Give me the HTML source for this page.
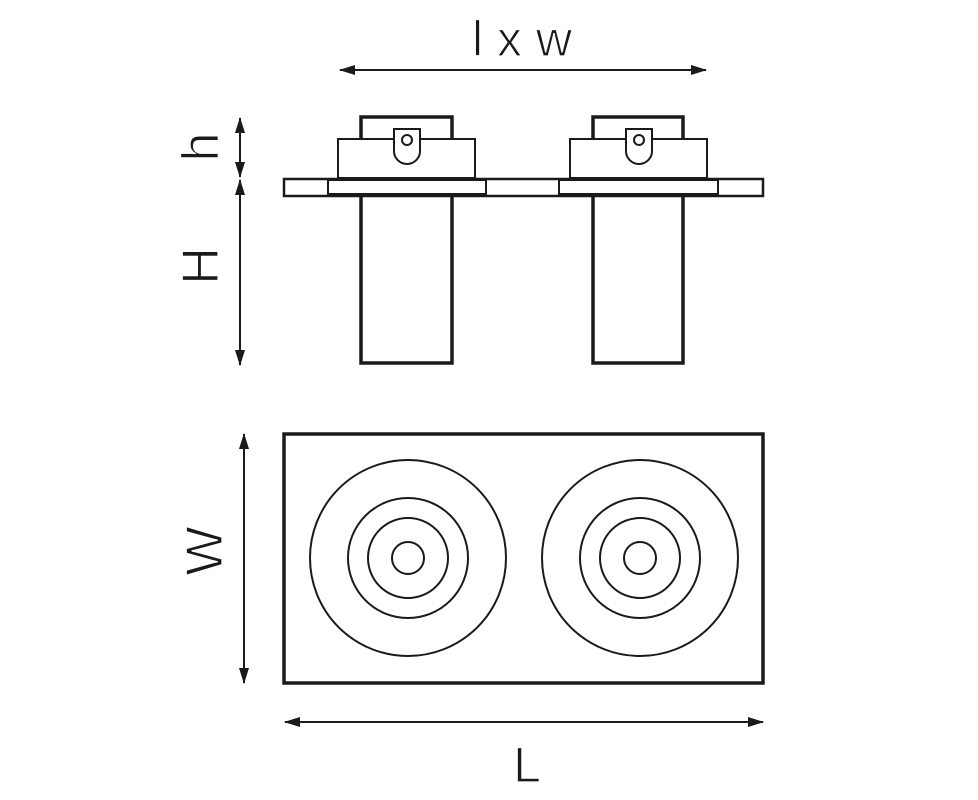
<!DOCTYPE html>
<html><head><meta charset="utf-8"><style>
html,body{margin:0;padding:0;background:#fff;}
svg{display:block;}
text{font-family:"Liberation Sans",sans-serif;fill:#1a1a1a;stroke:#fff;stroke-width:1.2px;}
</style></head><body>
<svg width="978" height="800" viewBox="0 0 978 800" xmlns="http://www.w3.org/2000/svg">
<defs>
<marker id="a" viewBox="0 0 16 12" refX="15" refY="6" markerWidth="16" markerHeight="12" markerUnits="userSpaceOnUse" orient="auto-start-reverse"><path d="M0,1 L16,6 L0,11 z" fill="#1a1a1a"/></marker>
</defs>
<g stroke="#1a1a1a" fill="none">
<line x1="340" y1="70" x2="706" y2="70" stroke-width="2" marker-start="url(#a)" marker-end="url(#a)"/>
<line x1="240" y1="118" x2="240" y2="177" stroke-width="2" marker-start="url(#a)" marker-end="url(#a)"/>
<line x1="240" y1="180" x2="240" y2="365" stroke-width="2" marker-start="url(#a)" marker-end="url(#a)"/>
<rect x="284" y="179" width="479" height="17" stroke-width="2.5" fill="#fff"/>
<rect x="328" y="180" width="158" height="14" stroke-width="2"/>
<rect x="559" y="180" width="159" height="14" stroke-width="2"/>
<path d="M361,139 V117 H452 V139" stroke-width="3.5"/>
<rect x="338" y="139" width="137" height="39" stroke-width="2"/>
<path d="M394,129 H420 V151 A13,13 0 0 1 394,151 Z" stroke-width="2" fill="#fff"/>
<circle cx="407" cy="140" r="5" stroke-width="2"/>
<path d="M361,196 V363 H452 V196" stroke-width="3.5"/>
<path d="M593,139 V117 H683 V139" stroke-width="3.5"/>
<rect x="570" y="139" width="137" height="39" stroke-width="2"/>
<path d="M626,129 H652 V151 A13,13 0 0 1 626,151 Z" stroke-width="2" fill="#fff"/>
<circle cx="639" cy="140" r="5" stroke-width="2"/>
<path d="M593,196 V363 H683 V196" stroke-width="3.5"/>
<rect x="284" y="434" width="479" height="249" stroke-width="3.5"/>
<g stroke-width="2">
<circle cx="408" cy="558" r="98"/><circle cx="408" cy="558" r="60"/><circle cx="408" cy="558" r="40"/><circle cx="408" cy="558" r="16"/>
<circle cx="640" cy="558" r="98"/><circle cx="640" cy="558" r="60"/><circle cx="640" cy="558" r="40"/><circle cx="640" cy="558" r="16"/>
</g>
<line x1="244" y1="434" x2="244" y2="683" stroke-width="2" marker-start="url(#a)" marker-end="url(#a)"/>
<line x1="285" y1="722" x2="763" y2="722" stroke-width="2" marker-start="url(#a)" marker-end="url(#a)"/>
</g>
<text x="522" y="56" font-size="50" text-anchor="middle">l x w</text>
<text x="527" y="782" font-size="50" text-anchor="middle">L</text>
<text transform="translate(218,147) rotate(-90)" font-size="52" text-anchor="middle">h</text>
<text transform="translate(218,266) rotate(-90)" font-size="52" text-anchor="middle">H</text>
<text transform="translate(222,551) rotate(-90)" font-size="52" text-anchor="middle">W</text>
</svg>
</body></html>
